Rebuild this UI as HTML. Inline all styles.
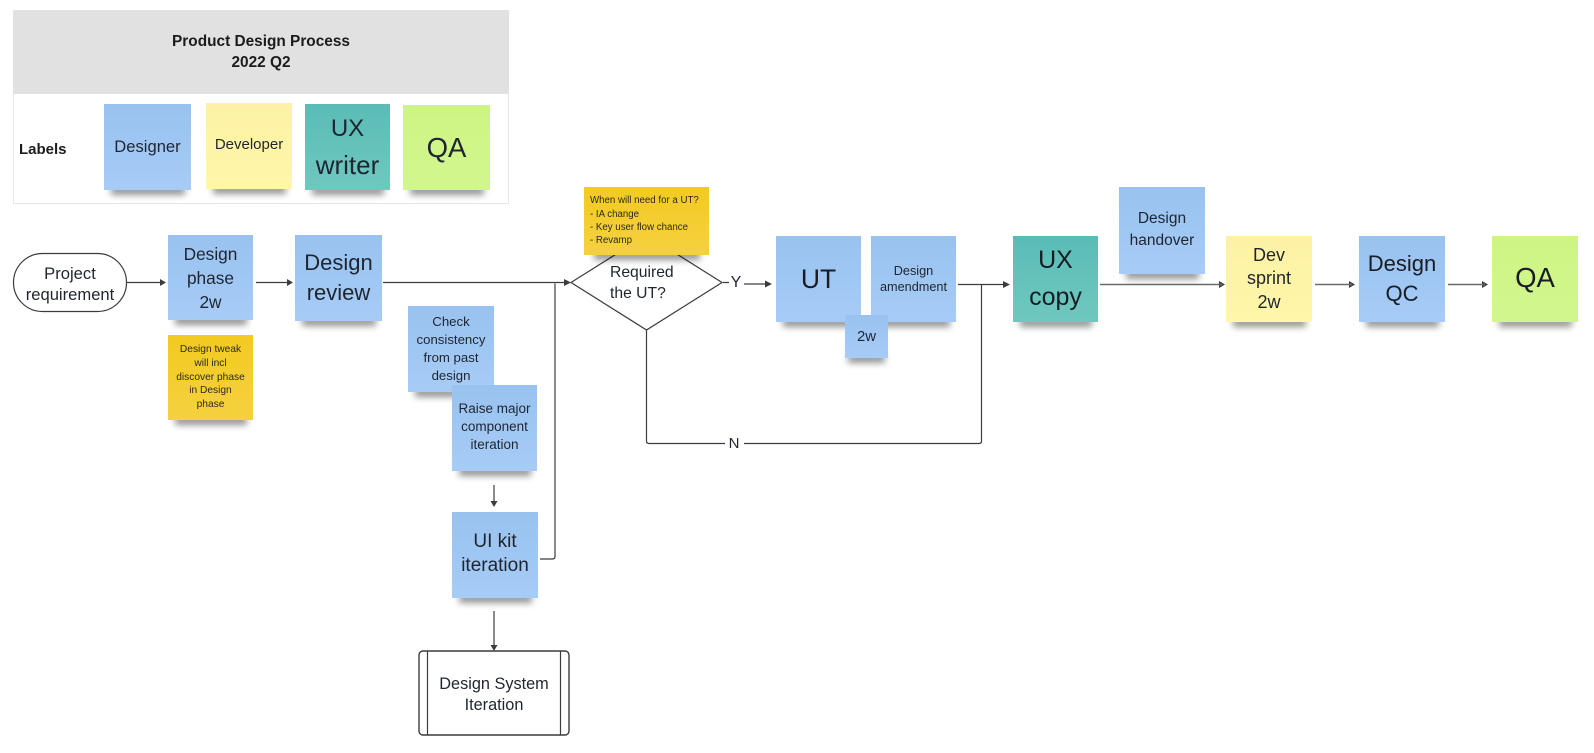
<!DOCTYPE html>
<html><head><meta charset="utf-8"><style>
html,body{margin:0;padding:0;background:#fff}
#p{position:relative;width:1594px;height:753px;overflow:hidden;background:#fff;font-family:"Liberation Sans",sans-serif;color:#1f2530}
svg{position:absolute;left:0;top:0}
.s{position:absolute;display:flex;align-items:center;justify-content:center;text-align:center;box-sizing:border-box}
.s:before{content:"";position:absolute;left:8%;right:7%;bottom:-5px;height:9px;background:#000;opacity:.42;filter:blur(3.500px);z-index:-1}
.b{background:linear-gradient(180deg,#99c2f0,#a6ccf6)}
.y{background:linear-gradient(180deg,#fdf2a4,#fff6a9)}
.t{background:linear-gradient(180deg,#5abcb6,#6fc8bf)}
.g{background:linear-gradient(180deg,#cef583,#d2f68f)}
.o{background:linear-gradient(180deg,#f2ca20,#f5d13f)}
.x{position:absolute;text-align:center;white-space:nowrap}
#st{position:absolute;left:0;top:0;width:1594px;height:753px;z-index:1}
</style></head><body><div id="p">
<div style="position:absolute;left:13px;top:10px;width:496px;height:194px;border:1px solid #e6e6e6;box-sizing:border-box"></div>
<div style="position:absolute;left:13px;top:10px;width:496px;height:84px;background:#e1e1e1"></div>
<div class="x" style="left:13px;top:31px;width:496px;font:bold 15.400px/21px 'Liberation Sans',sans-serif;color:#1c1c1c">Product Design Process<br>2022 Q2</div>
<div class="x" style="left:19px;top:140px;font:bold 15px/20px 'Liberation Sans',sans-serif;color:#1c1c1c">Labels</div>
<svg width="1594" height="753" viewBox="0 0 1594 753" fill="none" stroke="#3c3c3c" stroke-width="1.2">
<rect x="13.500" y="253.500" width="113" height="58" rx="29" fill="#fff"/>
<path d="M127 282.500H161M256 282.500H288M383 282.500H566M540 559H552.500Q555 559 555 556.500V283.500M646.500 330V441Q646.500 443.500 649 443.500H725M744 443.500H979Q981.500 443.500 981.500 441V285M494 485V502M494 611V646M723 282.500H729M744 284H767M958 284.500H1005"/>
<path d="M571 282.500L646.500 235L722 282.500L646.500 330Z" fill="#fff"/>
<rect x="419" y="651" width="150" height="84" rx="4" fill="#fff" stroke-width="1.400"/>
<path d="M427.500 651V735M560.500 651V735"/>
<g fill="#3c3c3c" stroke="none">
<path d="M166 282.500L160 279V286ZM293 282.500L287 279V286ZM571 282.500L564 279V286ZM772 284L765 280.500V287.500ZM1010 284.500L1003 281V288ZM1225 284.500L1219 281V288ZM1355 284.500L1349 281V288ZM1488 284.500L1482 281V288ZM494 507L490.500 501H497.500ZM494 651L490.500 645H497.500Z"/>
</g>
<path d="M1100 284.500H1222M1315 284.500H1352M1448 284.500H1485" stroke="#6a6a6a" stroke-width="1.500"/>
</svg>
<div id="st">
<div class="x" style="left:13px;top:262.500px;width:114px;font-size:16.600px;line-height:21px">Project<br>requirement</div>
<div class="x" style="left:610px;top:262px;text-align:left;font-size:15.700px;line-height:21px">Required<br>the UT?</div>
<div class="x" style="left:736px;top:273px;transform:translateX(-50%);font-size:16px;line-height:20px">Y</div>
<div class="x" style="left:734px;top:434px;transform:translateX(-50%);font-size:15px;line-height:20px">N</div>
<div class="x" style="left:419px;top:674px;width:150px;font-size:16.300px;line-height:21px">Design System<br>Iteration</div>

<div class="s b" style="left:104px;top:104px;width:87px;height:86px;font-size:16.600px">Designer</div>
<div class="s y" style="left:206px;top:103px;width:86px;height:86px;font-size:15px;padding-bottom:4px">Developer</div>
<div class="s t" style="left:305px;top:104px;width:85px;height:86px;font-size:26px;line-height:36px;padding-bottom:2px"><span><span style="font-size:24px">UX</span><br>writer</span></div>
<div class="s g" style="left:403px;top:105px;width:87px;height:85px;font-size:27.500px">QA</div>

<div class="s b" style="left:168px;top:235px;width:85px;height:85px;font-size:17.300px;line-height:24px">Design<br>phase<br>2w</div>
<div class="s b" style="left:295px;top:235px;width:87px;height:86px;font-size:22px;line-height:30px">Design<br>review</div>
<div class="s o" style="left:168px;top:335px;width:85px;height:85px;font-size:10.200px;line-height:13.800px;color:#2a2a20">Design tweak<br>will incl<br>discover phase<br>in Design<br>phase</div>
<div class="s b" style="left:408px;top:306px;width:86px;height:86px;font-size:13.200px;line-height:18px">Check<br>consistency<br>from past<br>design</div>
<div class="s b" style="left:452px;top:385px;width:85px;height:86px;font-size:13.500px;line-height:18px;padding-bottom:2px">Raise major<br>component<br>iteration</div>
<div class="s b" style="left:452px;top:512px;width:86px;height:86px;font-size:19px;line-height:24px;padding-bottom:2px">UI kit<br>iteration</div>
<div class="s o" style="left:584px;top:187px;width:125px;height:68px;font-size:9.700px;line-height:13.300px;text-align:left;justify-content:flex-start;padding-left:6px;color:#2a2a20">When will need for a UT?<br>- IA change<br>- Key user flow chance<br>- Revamp</div>
<div class="s b" style="left:776px;top:236px;width:85px;height:86px;font-size:26.500px;color:#181c24">UT</div>
<div class="s b" style="left:871px;top:236px;width:85px;height:86px;font-size:12.700px;line-height:16px">Design<br>amendment</div>
<div class="s b" style="left:845px;top:315px;width:43px;height:43px;font-size:14.900px">2w</div>
<div class="s t" style="left:1013px;top:236px;width:85px;height:86px;font-size:25px;line-height:37px;color:#181c24">UX<br>copy</div>
<div class="s b" style="left:1119px;top:187px;width:86px;height:87px;font-size:15.500px;line-height:22px;padding-bottom:1px">Design<br>handover</div>
<div class="s y" style="left:1226px;top:236px;width:86px;height:86px;font-size:18px;line-height:23.500px">Dev<br>sprint<br>2w</div>
<div class="s b" style="left:1359px;top:236px;width:86px;height:86px;font-size:22px;line-height:30px;color:#181c24">Design<br>QC</div>
<div class="s g" style="left:1492px;top:236px;width:86px;height:86px;font-size:27.500px;padding-bottom:2px;color:#181c24">QA</div>
</div>
</div></body></html>
